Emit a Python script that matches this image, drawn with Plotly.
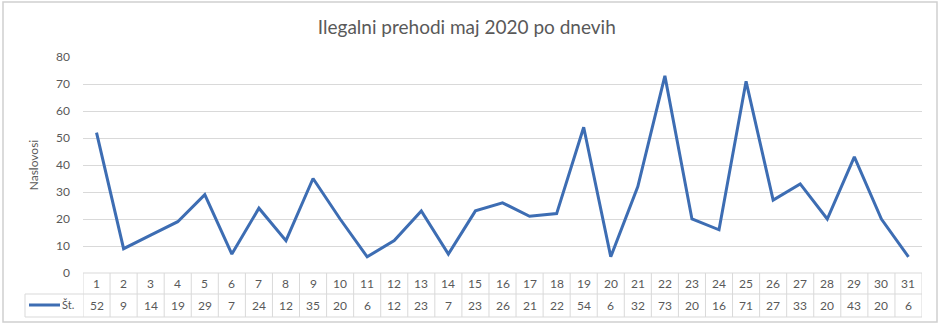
import plotly.graph_objects as go

days = list(range(1, 32))
values = [52, 9, 14, 19, 29, 7, 24, 12, 35, 20, 6, 12, 23, 7, 23, 26, 21, 22, 54, 6,
          32, 73, 20, 16, 71, 27, 33, 20, 43, 20, 6]
series_name = "Št."
title = "Ilegalni prehodi maj 2020 po dnevih"
y_title = "Naslovosi"
y_ticks = [0, 10, 20, 30, 40, 50, 60, 70, 80]

LINE = "#3d6db3"
GRID = "#d9d9d9"
TXT = "#595959"
FONT = "Lato"

W, H = 943, 326
L, R, T, B = 83, 21, 57, 53
pw, ph = W - L - R, H - T - B

def px_x(p):
    return (p - L) / pw

def px_y(p):
    return (H - B - p) / ph

fig = go.Figure()
fig.add_trace(go.Scatter(x=days, y=values, mode="lines", name=series_name,
                         line=dict(color=LINE, width=3), showlegend=False))

shapes = []
annotations = []
y_top, y_mid, y_bot = px_y(273), px_y(294), px_y(317)
# horizontal table lines
shapes.append(dict(type="line", xref="paper", yref="paper", x0=0, x1=1, y0=y_top, y1=y_top,
                   line=dict(color=GRID, width=1)))
shapes.append(dict(type="line", xref="paper", yref="paper", x0=px_x(25), x1=1, y0=y_mid, y1=y_mid,
                   line=dict(color=GRID, width=1)))
shapes.append(dict(type="line", xref="paper", yref="paper", x0=px_x(25), x1=1, y0=y_bot, y1=y_bot,
                   line=dict(color=GRID, width=1)))
shapes.append(dict(type="line", xref="paper", yref="paper", x0=px_x(25), x1=px_x(25), y0=y_mid, y1=y_bot,
                   line=dict(color=GRID, width=1)))
# vertical lines
for i in [days[0] - 0.5] + [d + 0.5 for d in days]:
    shapes.append(dict(type="line", xref="x", yref="paper", x0=i, x1=i, y0=y_top, y1=y_bot,
                       line=dict(color=GRID, width=1)))
for d, v in zip(days, values):
    annotations.append(dict(x=d, y=px_y(283.5), xref="x", yref="paper", text=str(d), showarrow=False,
                            xanchor="center", yanchor="middle",
                            font=dict(family=FONT, size=12, color=TXT)))
    annotations.append(dict(x=d, y=px_y(305.5), xref="x", yref="paper", text=str(v), showarrow=False,
                            xanchor="center", yanchor="middle",
                            font=dict(family=FONT, size=12, color=TXT)))
# legend cell
shapes.append(dict(type="line", xref="paper", yref="paper", x0=px_x(29), x1=px_x(60),
                   y0=px_y(305), y1=px_y(305), line=dict(color=LINE, width=3)))
annotations.append(dict(x=px_x(60), y=px_y(304.5), xref="paper", yref="paper", text=series_name,
                        showarrow=False, xanchor="left", yanchor="middle",
                        font=dict(family=FONT, size=11, color=TXT)))
# outer frame
shapes.append(dict(type="rect", xref="paper", yref="paper", x0=px_x(3), x1=px_x(937),
                   y0=px_y(322), y1=px_y(2), line=dict(color="#d0d0d0", width=1.5)))

fig.update_layout(
    width=W, height=H,
    margin=dict(l=L, r=R, t=T, b=B),
    paper_bgcolor="white", plot_bgcolor="white",
    title=dict(text=title, x=0.495, xanchor="center", y=1 - 27 / H, yanchor="middle",
               font=dict(family=FONT, size=19, color=TXT)),
    xaxis=dict(range=[0.5, 31.5], showgrid=False, showticklabels=False, zeroline=False,
               showline=False, ticks=""),
    yaxis=dict(range=[0, 80], tickvals=y_ticks, showgrid=True, gridcolor=GRID, gridwidth=1,
               zeroline=False, showline=False, ticks="", ticklabelstandoff=12,
               tickfont=dict(family=FONT, size=12, color=TXT),
               title=dict(text=y_title, font=dict(family=FONT, size=12, color=TXT), standoff=14)),
    shapes=shapes, annotations=annotations,
)
fig.write_html("out.html")
